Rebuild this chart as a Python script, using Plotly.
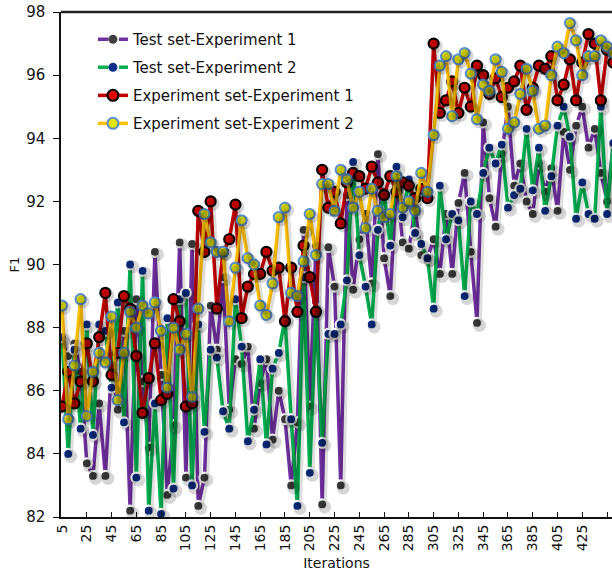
import plotly.graph_objects as go

iterations = list(range(5, 455, 5))

test_exp1 = [87.6, 87.1, 87.5, 86.6, 83.7, 83.3, 85.6, 83.3, 86.8, 85.4,
             87.9, 82.2, 88.9, 86.3, 84.2, 90.4, 86.5, 82.7, 84.9, 90.7,
             83.25, 90.65, 82.35, 83.25, 88.7, 87.3, 89.6, 85.4, 87.0, 86.85,
             87.4, 84.8, 86.25, 87.0, 84.45, 86.0, 85.1, 83.0, 85.0, 91.1,
             85.5, 90.6, 82.4, 90.55, 89.3, 83.0, 92.2, 89.2, 90.8, 91.6,
             89.4, 93.5, 90.2, 89.0, 92.6, 90.7, 90.5, 91.8, 90.3, 90.2,
             90.8, 89.7, 91.6, 89.7, 91.95, 92.9, 90.4, 88.15, 94.5, 92.1,
             91.2, 93.5, 95.0, 92.5, 93.2, 92.0, 91.6, 93.2, 92.3, 93.05,
             91.7, 94.2, 93.0, 94.4, 95.0, 93.7, 94.3, 92.9, 92.0, 93.8]

test_exp2 = [87.7, 84.0, 87.3, 84.8, 88.1, 84.6, 88.1, 87.9, 86.1, 88.8,
             85.0, 90.0, 83.25, 89.8, 82.2, 85.6, 82.1, 88.3, 82.9, 88.9,
             89.1, 83.0, 88.1, 84.7, 87.3, 87.05, 85.35, 84.8, 88.9, 87.4,
             84.4, 85.4, 87.0, 84.3, 86.7, 87.2, 88.3, 85.1, 82.35, 89.6,
             83.4, 88.6, 84.35, 87.8, 87.8, 88.1, 89.5, 93.25, 90.3, 89.3,
             88.1, 91.1, 92.3, 90.6, 93.1, 91.5, 92.7, 91.0, 90.65, 90.2,
             88.6, 92.5, 90.8, 91.6, 91.4, 89.0, 92.0, 91.6, 92.9, 93.7,
             93.2, 93.8, 91.8, 92.2, 92.4, 94.3, 92.35, 93.7, 91.7, 92.8,
             94.4, 95.0, 94.05, 91.45, 92.6, 91.6, 91.45, 95.0, 91.6, 93.85]

exp_exp1 = [85.5, 86.6, 85.6, 86.3, 87.5, 86.3, 87.7, 89.1, 86.5, 87.2,
            89.0, 88.6, 87.1, 85.3, 86.4, 87.5, 85.7, 85.9, 88.9, 88.2,
            85.5, 85.6, 91.7, 90.4, 92.0, 88.6, 90.4, 90.8, 91.9, 88.3,
            89.3, 89.7, 89.7, 90.4, 89.8, 89.9, 88.2, 89.9, 88.5, 90.6,
            89.6, 88.5, 93.0, 91.8, 92.3, 91.3, 92.6, 92.9, 92.8, 92.4,
            93.1, 92.6, 92.2, 92.8, 92.3, 92.6, 92.5, 92.1, 92.4, 92.1,
            97.0, 94.8, 95.2, 95.8, 94.8, 95.6, 95.0, 96.3, 96.0, 95.4,
            95.9, 95.3, 95.6, 95.8, 96.3, 94.9, 95.6, 96.3, 96.2, 96.6,
            95.2, 95.7, 96.5, 95.2, 96.4, 97.3, 97.0, 95.2, 96.8, 96.4]

exp_exp2 = [88.7, 85.1, 86.8, 88.9, 85.2, 86.6, 87.2, 86.9, 88.35, 85.7,
            87.2, 88.5, 88.0, 88.7, 88.45, 88.8, 87.9, 86.1, 88.0, 87.3,
            87.8, 85.8, 88.6, 91.6, 90.7, 90.4, 90.4, 88.2, 89.9, 91.4,
            90.2, 90.0, 88.7, 88.4, 89.4, 91.5, 91.8, 89.1, 89.0, 90.1,
            91.6, 90.3, 92.55, 92.55, 91.7, 93.0, 92.7, 91.8, 92.3, 91.15,
            92.4, 91.7, 91.5, 91.6, 92.8, 91.8, 92.0, 91.7, 92.9, 92.3,
            94.1, 96.3, 96.6, 94.7, 96.5, 96.7, 96.05, 94.6, 95.7, 95.5,
            96.5, 96.1, 94.3, 94.5, 95.4, 96.2, 95.5, 94.3, 94.4, 96.0,
            96.9, 96.7, 97.65, 97.1, 96.0, 96.6, 96.6, 97.1, 96.9, 96.7]

names = ["Test set-Experiment 1", "Test set-Experiment 2",
         "Experiment set-Experiment 1", "Experiment set-Experiment 2"]
series = [test_exp1, test_exp2, exp_exp1, exp_exp2]
line_colors = ["#7030A0", "#00B050", "#C00000", "#FFC000"]
marker_fill = ["#404040", "#0A2F8A", "#E00000", "#E6E600"]
marker_edge = ["#FFFFFF", "#FFFFFF", "#000000", "#5B8FD0"]
legend_dash = ["dash", "dash", "solid", "solid"]

x_ticks = list(range(5, 450, 20))
y_ticks = list(range(82, 100, 2))

fig = go.Figure()
# soft drop shadows (drawn in a shifted overlay axis so data stays untouched)
for i in range(4):
    fig.add_trace(go.Scatter(
        x=iterations, y=series[i], mode="lines+markers", showlegend=False,
        xaxis="x2", yaxis="y2", hoverinfo="skip",
        line=dict(color="rgba(0,0,0,0.13)", width=4.5),
        marker=dict(size=13, color="rgba(0,0,0,0.16)"),
    ))
for i in range(4):
    fig.add_trace(go.Scatter(
        x=iterations, y=series[i], mode="lines+markers", showlegend=False,
        line=dict(color=line_colors[i], width=3.5),
        marker=dict(size=10, color=marker_fill[i],
                    line=dict(color=marker_edge[i], width=2.2)),
    ))
for i in range(4):
    fig.add_trace(go.Scatter(
        x=[None], y=[None], mode="lines+markers", name=names[i],
        legendgroup="g%d" % i,
        line=dict(color=line_colors[i], width=3.5, dash=legend_dash[i]),
        marker=dict(size=9 if i < 2 else 11, color=marker_fill[i],
                    line=dict(color=marker_edge[i], width=2 if i >= 2 else 0)),
    ))

px_per_x = (449 - 4.2) / 551.0
px_per_y = 16.0 / 505.0
sx, sy = 2.5, 2.5

fig.update_layout(
    width=612, height=573,
    margin=dict(l=61, r=0, t=12, b=56),
    plot_bgcolor="white", paper_bgcolor="white",
    font=dict(family="DejaVu Sans", color="#111111", size=14),
    showlegend=True,
    legend=dict(x=0.058, y=0.978, xanchor="left", yanchor="top",
                bgcolor="rgba(0,0,0,0)", font=dict(size=15),
                tracegroupgap=5.5, traceorder="grouped"),
    xaxis=dict(range=[4.2, 449], tickvals=x_ticks, ticktext=[str(v) for v in x_ticks],
               tickangle=-90, showline=True, linecolor="#111111", linewidth=2,
               ticks="inside", ticklen=5, tickcolor="#111111", showgrid=False,
               zeroline=False, tickfont=dict(size=14),
               title=dict(text="Iterations", font=dict(size=14), standoff=8)),
    yaxis=dict(range=[82, 98], tickvals=y_ticks,
               ticktext=[str(v) + "\u00a0" for v in y_ticks],
               showline=True, linecolor="#111111",
               linewidth=2, ticks="outside", ticklen=6, tickcolor="#111111",
               showgrid=False, zeroline=False, tickfont=dict(size=15),
               title=dict(text="F1", font=dict(size=13), standoff=4)),
    xaxis2=dict(overlaying="x", range=[4.2 - sx * px_per_x, 449 - sx * px_per_x],
                visible=False, matches=None),
    yaxis2=dict(overlaying="y", range=[82 + sy * px_per_y, 98 + sy * px_per_y],
                visible=False),
    shapes=[dict(type="line", xref="paper", yref="paper", x0=0, x1=1, y0=1, y1=1,
                 line=dict(color="#222222", width=2.5))],
)

fig.write_html("out.html")
